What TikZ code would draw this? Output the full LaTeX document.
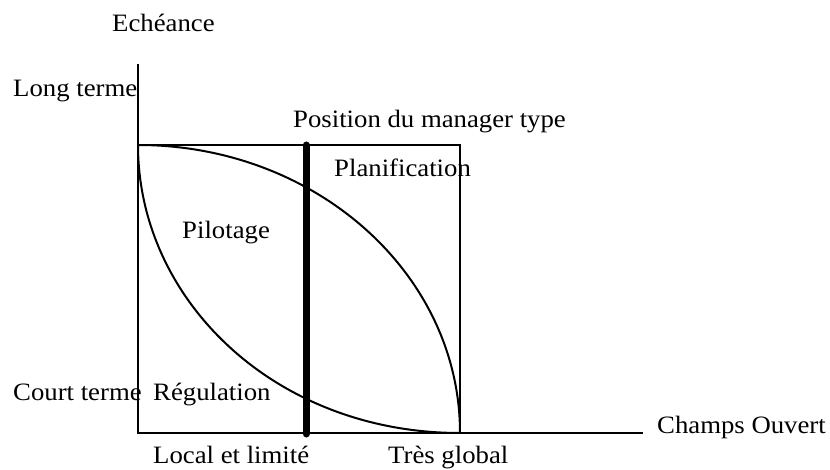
\documentclass[tikz,border=0pt]{standalone}
\usepackage{fontspec}
\setmainfont{Liberation Serif}[FakeStretch=1.07]
\begin{document}
\begin{tikzpicture}[x=1pt,y=-1pt,
  thinline/.style={line width=2pt, black},
  lbl/.style={anchor=base west, inner sep=0pt, font=\fontsize{25}{30}\selectfont}]
\useasboundingbox (0,0) rectangle (830,470);
% key points
\coordinate (origin) at (138,433);
\coordinate (ytop) at (138,64);
\coordinate (xend) at (643,433);
\coordinate (tl) at (138,145);
\coordinate (tr) at (460,145);
\coordinate (br) at (460,433);
\coordinate (mtop) at (306,145);
\coordinate (mbot) at (306,434);
% axes and frame
\draw[thinline] (ytop) -- (origin) -- (xend);
\draw[thinline] (tl) -- (tr) -- (br);
% curves
\draw[thinline] (tl) .. controls (315.8,145) and (460,273.9) .. (br);
\draw[thinline] (tl) .. controls (138,300) and (275,433) .. (br);
% manager position
\draw[line width=7pt, line cap=round] (mtop) -- (mbot);
% labels
\node[lbl] (ech) at (112,32) {Echéance};
\node[lbl] (long) at (13,97) {Long terme};
\node[lbl] (pos) at (293,128) {Position du manager type};
\node[lbl] (plan) at (334,177) {Planification};
\node[lbl] (pil) at (182,239) {Pilotage};
\node[lbl] (court) at (13,400) {Court terme};
\node[lbl] (reg) at (153,400) {Régulation};
\node[lbl] (loc) at (153,463) {Local et limité};
\node[lbl] (tres) at (388,463) {Très global};
\node[lbl] (champ) at (657,433) {Champs Ouvert};
\end{tikzpicture}
\end{document}
